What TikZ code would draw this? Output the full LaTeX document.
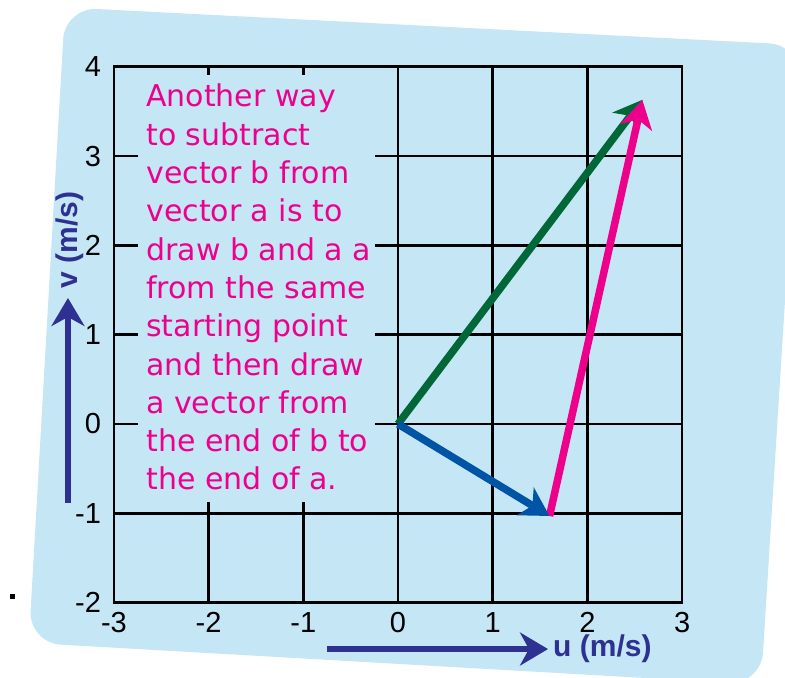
\documentclass[tikz,border=0pt]{standalone}
\usepackage{fontspec}
\setmainfont{Liberation Sans}
\newfontfamily\notefont{DejaVu Sans}
\usetikzlibrary{arrows.meta}
\definecolor{bgblue}{RGB}{197,230,245}
\definecolor{axisblue}{RGB}{46,49,146}
\definecolor{vecgreen}{RGB}{0,104,56}
\definecolor{vecblue}{RGB}{0,84,166}
\definecolor{vecpink}{RGB}{236,0,140}
\begin{document}
\begin{tikzpicture}[x=94.7pt,y=89.3pt,
  gridline/.style={black,line width=2.7pt},
  ticklabel/.style={font=\fontsize{29}{29}\selectfont,inner sep=0pt},
  axislabel/.style={font=\fontsize{30}{30}\selectfont\bfseries,text=axisblue,inner sep=0pt},
  axisarrow/.style={draw=axisblue,line width=5.5pt,-{Stealth[length=28pt,width=33pt,inset=9pt]}},
  vec/.style={line width=7.5pt,-{Stealth[length=28pt,width=32pt,inset=8pt]}},
  note/.style={font=\notefont\fontsize{30}{38}\selectfont,text=vecpink,inner sep=0pt,anchor=base west}]
\useasboundingbox (-4.2027,-2.8331) rectangle (4.0866,4.7481);
% background card (pixel coordinates)
\begin{scope}[x=1pt,y=-1pt,shift={(-398pt,424pt)}]
  \fill[bgblue,rounded corners=32pt] (65,7.4) -- (801,45) -- (761,684.6) -- (28.8,642.8) -- cycle;
  \fill[black] (10,594) rectangle (15,599);
\end{scope}
% grid
\foreach \x in {-2,...,2} \draw[gridline] (\x,-2) -- (\x,4);
\foreach \y in {-1,...,3} \draw[gridline] (-3,\y) -- (3,\y);
\draw[gridline] (-3,-2) rectangle (3,4);
% clear area for the note
\fill[bgblue] (-2.745,-0.873) rectangle (-0.243,3.908);
% tick labels
\foreach \y in {-2,...,4} \node[ticklabel,anchor=east] (yl\y) at (-3.135,\y) {\y};
\foreach \x in {-3,...,3} \node[ticklabel] (xl\x) at (\x,-2.225) {\x};
% axis arrows
\coordinate (vstart) at (-3.485,-0.885);
\coordinate (vend) at (-3.485,1.411);
\draw[axisarrow] (vstart) -- (vend);
\node[axislabel,rotate=90] (vlab) at (-3.464,2.06) {v (m/s)};
\coordinate (ustart) at (-0.75,-2.52);
\coordinate (uend) at (1.584,-2.52);
\draw[axisarrow] (ustart) -- (uend);
\node[axislabel,anchor=west] (ulab) at (1.637,-2.52) {u (m/s)};
% vectors
\coordinate (O) at (0,0);
\coordinate (A) at (2.58,3.63);
\coordinate (B) at (1.6,-1.03);
\draw[vec,vecgreen] (O) -- (A);
\draw[vec,vecpink] (B) -- (A);
\draw[vec,vecblue] (O) -- (B);
% note
\foreach \t [count=\i] in {Another way,to subtract,vector b from,vector a is to,draw b and a a,from the same,starting point,and then draw,a vector from,the end of b to,the end of a.}
  \node[note] (line\i) at (-2.66,{3.55-(\i-1)*0.4289}) {\t};
\end{tikzpicture}
\end{document}
